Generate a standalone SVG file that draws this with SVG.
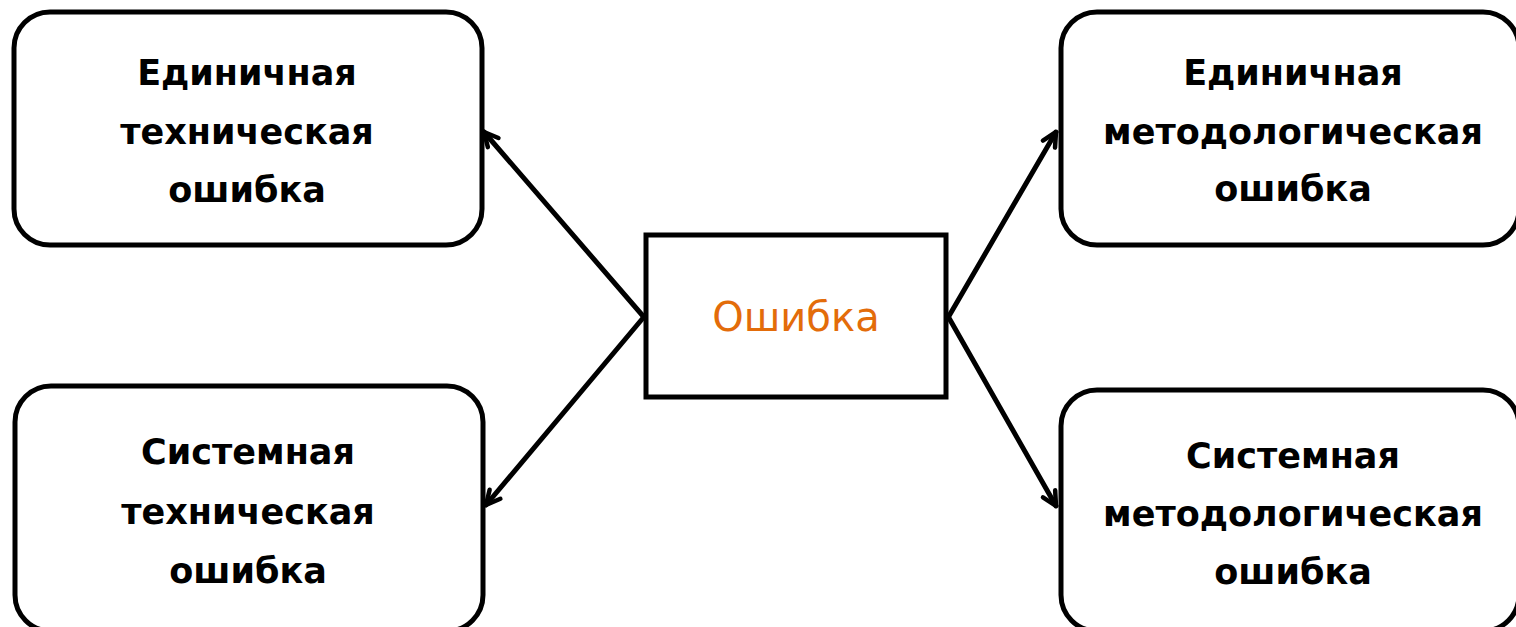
<svg xmlns="http://www.w3.org/2000/svg" width="1516" height="627" viewBox="0 0 1516 627">
<style>
.box{fill:#fff;stroke:#000;stroke-width:5}
.t{font-family:"DejaVu Sans",sans-serif;font-size:35px;font-weight:bold;fill:#000;text-anchor:middle}
.c{font-family:"DejaVu Sans",sans-serif;font-size:40px;fill:#E36C0A;text-anchor:middle}
.conn{stroke:#000;stroke-width:5;fill:none;stroke-linecap:round}
</style>
<defs>
<marker id="ah" viewBox="0 0 20 20" refX="18" refY="10" markerWidth="20" markerHeight="20" markerUnits="userSpaceOnUse" orient="auto">
<path d="M4,3 L18,10 L4,17" fill="none" stroke="#000" stroke-width="4.5" stroke-linecap="round" stroke-linejoin="round"/>
</marker>
</defs>
<rect width="1516" height="627" fill="#fff"/>
<g id="connectors">
<line class="conn" x1="643" y1="316" x2="484" y2="132" marker-end="url(#ah)"/>
<line class="conn" x1="643" y1="318" x2="486" y2="505" marker-end="url(#ah)"/>
<line class="conn" x1="949" y1="316" x2="1056" y2="132" marker-end="url(#ah)"/>
<line class="conn" x1="949" y1="318" x2="1056" y2="506" marker-end="url(#ah)"/>
</g>
<g id="n1">
<rect class="box" x="14" y="12" width="468" height="233" rx="36"/>
<text class="t" x="247" y="85">Единичная</text>
<text class="t" x="247" y="144">техническая</text>
<text class="t" x="247" y="202">ошибка</text>
</g>
<g id="n2">
<rect class="box" x="1061" y="12" width="458" height="233" rx="36"/>
<text class="t" x="1293" y="85">Единичная</text>
<text class="t" x="1293" y="144">методологическая</text>
<text class="t" x="1293" y="201">ошибка</text>
</g>
<g id="n3">
<rect class="box" x="15" y="386" width="468" height="245" rx="36"/>
<text class="t" x="248" y="464">Системная</text>
<text class="t" x="248" y="524">техническая</text>
<text class="t" x="248" y="583">ошибка</text>
</g>
<g id="n4">
<rect class="box" x="1061" y="390" width="458" height="241" rx="36"/>
<text class="t" x="1293" y="468">Системная</text>
<text class="t" x="1293" y="526">методологическая</text>
<text class="t" x="1293" y="584">ошибка</text>
</g>
<g id="center">
<rect x="646" y="235" width="300" height="162" fill="#fff" stroke="#000" stroke-width="5"/>
<text class="c" x="796" y="331">Ошибка</text>
</g>
</svg>
